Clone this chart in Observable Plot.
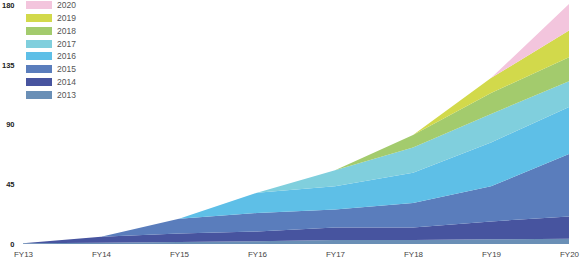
<!DOCTYPE html>
<html>
<head>
<meta charset="utf-8">
<script src="https://cdn.jsdelivr.net/npm/d3@7"></script>
<script src="https://cdn.jsdelivr.net/npm/@observablehq/plot@0.6"></script>
<style>
  html, body { margin: 0; padding: 0; background: #fff; }
  #wrap { position: relative; width: 580px; height: 258px; font-family: "Liberation Sans", Arial, sans-serif; }
  #legend { position: absolute; left: 26px; top: 0px; }
  .row { position: absolute; left: 0; height: 8px; width: 80px; }
  .sw { position: absolute; left: 0; top: 0; width: 26px; height: 8px; }
  .lb { position: absolute; left: 31px; top: -1px; font-size: 8.5px; line-height: 10px; color: #555; }
</style>
</head>
<body>
<div id="wrap"></div>
<script>
const years = ["FY13", "FY14", "FY15", "FY16", "FY17", "FY18", "FY19", "FY20"];
const cohorts = ["2013", "2014", "2015", "2016", "2017", "2018", "2019", "2020"];
const colors = ["#6a8fb6", "#47549f", "#5a7dbc", "#5ebfe7", "#80cfdd", "#a3cb6d", "#d2d94b", "#f3c5dd"];
const yTicks = [0, 45, 90, 135, 180];

const c2013 = [0.5, 1, 1.5, 2, 3, 3, 3.5, 4];
const c2014 = [0, 4.5, 6.5, 7.5, 9.5, 9.4, 13.5, 16.7];
const c2015 = [0, 0, 11, 13.9, 13.5, 18.5, 26.5, 47];
const c2016 = [0, 0, 0, 15.2, 17.5, 22.8, 33, 35.4];
const c2017 = [0, 0, 0, 0, 12, 18.9, 21.5, 19.5];
const c2018 = [0, 0, 0, 0, 0, 9.4, 15.7, 18];
const c2019 = [0, 0, 0, 0, 0, 0, 11.3, 20.2];
const c2020 = [0, 0, 0, 0, 0, 0, 0, 20];

const series = [c2013, c2014, c2015, c2016, c2017, c2018, c2019, c2020];
const rows = [];
cohorts.forEach((c, i) => {
  years.forEach((y, j) => rows.push({cohort: c, year: y, value: series[i][j]}));
});

const chart = Plot.plot({
  width: 580,
  height: 258,
  marginLeft: 20,
  marginRight: 8,
  marginTop: 5,
  marginBottom: 14,
  style: {fontFamily: "'Liberation Sans', Arial, sans-serif", background: "#fff"},
  x: {type: "point", domain: years, padding: 0, label: null},
  y: {domain: [0, 180], label: null},
  color: {domain: cohorts, range: colors},
  marks: [
    Plot.areaY(rows, {x: "year", y: "value", z: "cohort", fill: "cohort", order: null}),
    Plot.axisX({tickSize: 0, tickPadding: 6.5, fontSize: 8, fill: "#444", label: null}),
    Plot.axisY({ticks: yTicks, tickSize: 0, tickPadding: 6, fontSize: 7.5, fontWeight: "bold", fill: "#222", label: null})
  ]
});

const wrap = document.getElementById("wrap");
wrap.appendChild(chart);

const legend = document.createElement("div");
legend.id = "legend";
const order = cohorts.slice().reverse();
order.forEach((c, k) => {
  const r = document.createElement("div");
  r.className = "row";
  r.style.top = (1 + k * 12.85) + "px";
  const sw = document.createElement("div");
  sw.className = "sw";
  sw.style.background = colors[cohorts.indexOf(c)];
  const lb = document.createElement("div");
  lb.className = "lb";
  lb.textContent = c;
  r.appendChild(sw);
  r.appendChild(lb);
  legend.appendChild(r);
});
wrap.appendChild(legend);
</script>
</body>
</html>
